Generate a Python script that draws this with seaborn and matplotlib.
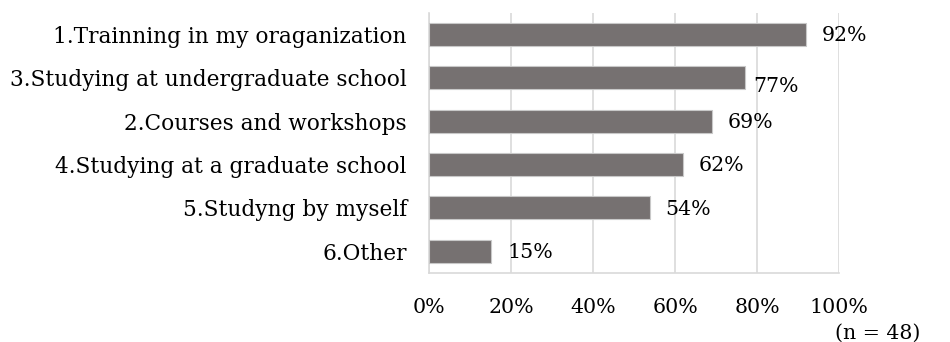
import matplotlib
matplotlib.use("Agg")
import matplotlib.pyplot as plt
import seaborn as sns
import pandas as pd

categories = [
    "1.Trainning in my oraganization",
    "3.Studying at undergraduate school",
    "2.Courses and workshops",
    "4.Studying at a graduate school",
    "5.Studyng by myself",
    "6.Other",
]
values = [92, 77, 69, 62, 54, 15]
x_ticks = [0, 20, 40, 60, 80, 100]
x_tick_labels = ["0%", "20%", "40%", "60%", "80%", "100%"]
sample_note = "(n = 48)"

sns.set_theme(style="white")
plt.rcParams["font.family"] = ["DejaVu Serif"]

df = pd.DataFrame({"category": categories, "value": values})

fig = plt.figure(figsize=(9.5, 3.42), dpi=100)
ax = fig.add_axes([0.4516, 0.2026, 0.4316, 0.7603])

sns.barplot(data=df, x="value", y="category", orient="h", ax=ax,
            color="#767171", saturation=1, width=0.53,
            edgecolor="#c8c8c8", linewidth=0.8, zorder=3)

ax.set_xlim(0, 100)
ax.set_ylim(5.5, -0.5)
ax.set_xticks(x_ticks)
ax.set_xticklabels(x_tick_labels)
ax.set_xlabel("")
ax.set_ylabel("")
ax.grid(axis="x", color="#d9d9d9", linewidth=1.2, zorder=0)
ax.grid(axis="y", visible=False)
for side in ["top", "right"]:
    ax.spines[side].set_visible(False)
ax.spines["left"].set_color("#d9d9d9")
ax.spines["left"].set_linewidth(1.2)
ax.spines["bottom"].set_color("#d9d9d9")
ax.spines["bottom"].set_linewidth(1.2)
ax.tick_params(axis="y", length=0, pad=16, labelsize=15.6, labelcolor="#000000")
ax.tick_params(axis="x", length=0, pad=18, labelsize=14.8, labelcolor="#000000")

# value labels beside each bar
offsets = [(11, -1), (6, -6), (11, -1), (11, -1), (11, -1), (12, -1)]
for i, (v, off) in enumerate(zip(values, offsets)):
    ax.annotate(f"{v}%", xy=(v, i), xytext=off, textcoords="offset points",
                ha="left", va="center", fontsize=14.8, color="#000000")

fig.text(920 / 950, 1 - 333 / 342, sample_note, ha="right", va="center",
         fontsize=14.8, color="#000000")

fig.savefig("out.png", dpi=100)
